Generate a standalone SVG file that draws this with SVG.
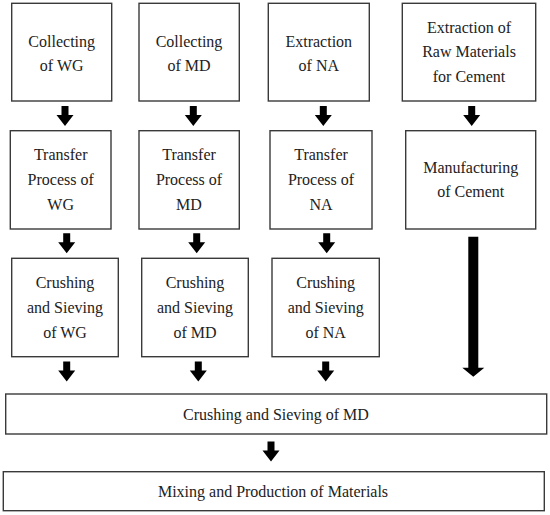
<svg xmlns="http://www.w3.org/2000/svg" width="550" height="515" viewBox="0 0 550 515">
<style>
.box{fill:#fff;stroke:#3a3a3a;stroke-width:1.4}
.t{font-family:"Liberation Serif","Times New Roman",serif;font-size:16px;fill:#222;text-anchor:middle}
.arr{fill:#000}
</style>
<defs>
<path id="a" d="M-3.5,0 h7 v9 h5 l-8.5,11 l-8.5,-11 h5 z"/>
</defs>
<rect width="550" height="515" fill="#fff"/>
<g id="n1"><rect class="box" x="11.7" y="3.3" width="100" height="97.7"/><text class="t" x="61.7" y="47">Collecting</text><text class="t" x="61.7" y="71">of WG</text></g>
<g id="n2"><rect class="box" x="139" y="3.3" width="100.3" height="97.7"/><text class="t" x="189" y="47">Collecting</text><text class="t" x="189" y="71">of MD</text></g>
<g id="n3"><rect class="box" x="268.3" y="3.3" width="101" height="97.7"/><text class="t" x="318.8" y="47">Extraction</text><text class="t" x="318.8" y="71">of NA</text></g>
<g id="n4"><rect class="box" x="402.3" y="3.3" width="133.4" height="97.7"/><text class="t" x="469" y="33">Extraction of</text><text class="t" x="469" y="57">Raw Materials</text><text class="t" x="469" y="82">for Cement</text></g>
<g id="n5"><rect class="box" x="10.3" y="130.7" width="100.7" height="98.3"/><text class="t" x="60.7" y="160">Transfer</text><text class="t" x="60.7" y="185">Process of</text><text class="t" x="60.7" y="210">WG</text></g>
<g id="n6"><rect class="box" x="139" y="130.7" width="100.3" height="98.3"/><text class="t" x="189" y="160">Transfer</text><text class="t" x="189" y="185">Process of</text><text class="t" x="189" y="210">MD</text></g>
<g id="n7"><rect class="box" x="270" y="130.7" width="102" height="98.3"/><text class="t" x="321" y="160">Transfer</text><text class="t" x="321" y="185">Process of</text><text class="t" x="321" y="210">NA</text></g>
<g id="n8"><rect class="box" x="405.7" y="130.7" width="130" height="98.3"/><text class="t" x="470.7" y="173">Manufacturing</text><text class="t" x="470.7" y="197">of Cement</text></g>
<g id="n9"><rect class="box" x="11.7" y="258.3" width="106.6" height="98.4"/><text class="t" x="65" y="288">Crushing</text><text class="t" x="65" y="313">and Sieving</text><text class="t" x="65" y="338">of WG</text></g>
<g id="n10"><rect class="box" x="141.7" y="258.3" width="106.6" height="98.4"/><text class="t" x="195" y="288">Crushing</text><text class="t" x="195" y="313">and Sieving</text><text class="t" x="195" y="338">of MD</text></g>
<g id="n11"><rect class="box" x="272" y="258.3" width="107.3" height="98.4"/><text class="t" x="325.7" y="288">Crushing</text><text class="t" x="325.7" y="313">and Sieving</text><text class="t" x="325.7" y="338">of NA</text></g>
<g id="n12"><rect class="box" x="5.7" y="394" width="541" height="40"/><text class="t" x="276" y="420">Crushing and Sieving of MD</text></g>
<g id="n13"><rect class="box" x="3.3" y="471.7" width="541" height="39"/><text class="t" x="273" y="497">Mixing and Production of Materials</text></g>
<g id="connectors" class="arr">
<use href="#a" x="65" y="106"/>
<use href="#a" x="193.3" y="106"/>
<use href="#a" x="323.3" y="106"/>
<use href="#a" x="471.7" y="106"/>
<use href="#a" x="66.7" y="233.3"/>
<use href="#a" x="196.7" y="233.3"/>
<use href="#a" x="326.7" y="233.3"/>
<use href="#a" x="66.7" y="361.5"/>
<use href="#a" x="198.3" y="361.5"/>
<use href="#a" x="325.7" y="361.5"/>
<use href="#a" x="271" y="441.5"/>
<path d="M468.3,236.7 h10 v131 h6 l-11,9 l-11,-9 h6 z"/>
</g>
</svg>
